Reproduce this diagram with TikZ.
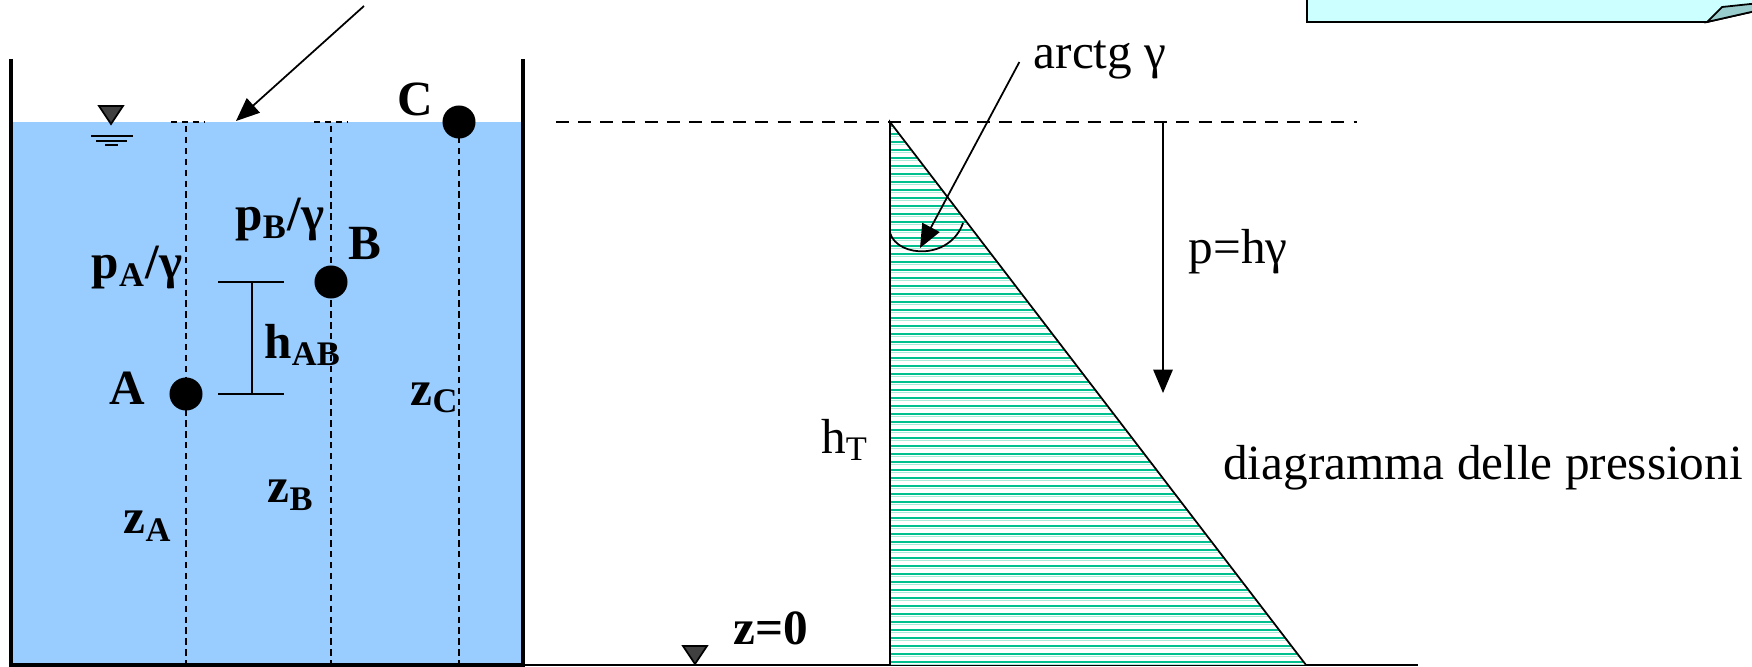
\documentclass[tikz,border=0pt]{standalone}
\usepackage{fontspec}
\setmainfont{Liberation Serif}
\usetikzlibrary{arrows,calc}
\tikzset{>=triangle 45}
\definecolor{water}{HTML}{99CCFF}
\definecolor{hatchdk}{HTML}{00C08F}
\definecolor{hatchlt}{HTML}{A8EBD8}
\definecolor{notefill}{HTML}{CCFFFF}
\definecolor{curlfill}{HTML}{99CCCC}
\definecolor{levelgray}{HTML}{404040}
\tikzset{
  lbl/.style={font=\fontsize{14}{17}\selectfont\bfseries,inner sep=1pt},
  txt/.style={font=\fontsize{14}{17}\selectfont,inner sep=1pt},
  dot/.style={circle,fill=black,minimum size=0.33cm,inner sep=0pt},
  vdash/.style={dash pattern=on 1.8pt off 1.3pt},
  wall/.style={line width=1pt},
}
\newcommand{\levelmark}[2]{%
  \filldraw[fill=levelgray,draw=black] (#1-12,#2-18) -- (#1+12,#2-18) -- (#1,#2) -- cycle;
}
\newcommand{\surfacelines}[2]{%
  \draw (#1-20,#2+12) -- (#1+22,#2+12) (#1-15,#2+17) -- (#1+16,#2+17) (#1-6,#2+21) -- (#1+7,#2+21);
}

\begin{document}
\begin{tikzpicture}[x=0.01cm,y=-0.01cm,line width=0.5pt]
\clip (0,0) rectangle (1752,667);
% tank
\fill[water] (11,122) rectangle (523,665);
\draw[wall] (11,59) -- (11,665) -- (523,665) -- (523,59);
\draw (523,665) -- (1418,665);
\levelmark{111}{124} \surfacelines{111}{124}
\foreach \x in {186,331,459} \draw[vdash] (\x,126) -- (\x,665);
\draw[vdash] (171,122) -- (204,122) (314,122) -- (347,122);
\node[dot] (ptA) at (186,394) {};
\node[dot] (ptB) at (331,282) {};
\node[dot] (ptC) at (459,122) {};
\node[lbl] (labA) at (127,388) {A};
\node[lbl] (labB) at (365,243) {B};
\node[lbl] (labC) at (415,99) {C};
\node[lbl] (pA) at (137,268) {p\textsubscript{A}/γ};
\node[lbl] (pB) at (280,220) {p\textsubscript{B}/γ};
\node[lbl] (hAB) at (303,345) {h\textsubscript{AB}};
\node[lbl] (zA) at (148,526) {z\textsubscript{A}};
\node[lbl] (zB) at (291,495) {z\textsubscript{B}};
\node[lbl] (zC) at (435,398) {z\textsubscript{C}};
\draw (218,282) -- (284,282) (218,394) -- (284,394) (252,282) -- (252,394);
% note and its pointer
\filldraw[fill=notefill] (1307,-10) -- (1307,22) -- (1707,22) -- (1760,10) -- (1760,-10) -- cycle;
\filldraw[fill=curlfill] (1707,22) -- (1722,7) -- (1760,3) -- (1760,10) -- cycle;
\coordinate (noteTip) at (364,6);
\coordinate (surf) at (236,121);
\draw[->] (noteTip) -- (surf);
% pressure diagram
\draw[dash pattern=on 3.7pt off 2.6pt] (556,122) -- (1357,122);
\begin{scope}
\clip (890,122) -- (890,665) -- (1306,665) -- cycle;
\foreach \y in {126,134,...,662} {
  \draw[hatchdk,line width=0.65pt] (890,\y) -- (1310,\y);
  \draw[hatchlt,line width=0.4pt] (890,\y+2.5) -- (1310,\y+2.5);
}
\end{scope}
\draw (890,665) -- (890,122) -- (1306,665);
\draw (890,233) .. controls (898,258) and (950,260) .. (963,223);
\node[txt] (arctg) at (1100,60) {arctg γ};
\coordinate (arcTip) at (920,248);
\draw[->] (arctg.west) ++(-10,2) -- (arcTip);
\coordinate (pTop) at (1163,122);
\coordinate (pBot) at (1163,393);
\draw[->] (pTop) -- (pBot);
\node[txt] (phg) at (1238,252) {p=hγ};
\node[txt] (hT) at (845,440) {h\textsubscript{T}};
\node[lbl] (zzero) at (771,628) {z=0};
\levelmark{695}{664}
\node[txt] (diag) at (1483,468) {diagramma delle pressioni};
\end{tikzpicture}
\end{document}
